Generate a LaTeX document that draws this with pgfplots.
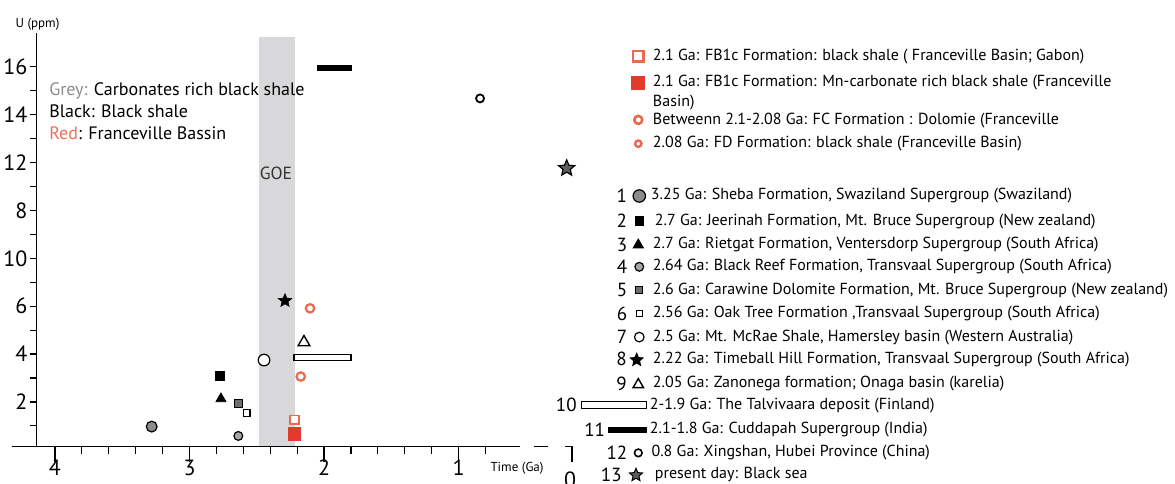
\documentclass[border=0pt]{standalone}
\usepackage{pgfplots}
\pgfplotsset{compat=1.18}
\usepackage{fontspec}
\setmainfont{PT Sans}
\usetikzlibrary{plotmarks}

\definecolor{goe}{RGB}{216,216,219}
\definecolor{gA}{RGB}{140,140,140}
\definecolor{gB}{RGB}{165,165,165}
\definecolor{gC}{RGB}{110,110,110}
\definecolor{gD}{RGB}{95,95,95}
\definecolor{rF}{RGB}{226,58,44}
\definecolor{rR}{RGB}{238,104,78}
\definecolor{greytxt}{RGB}{140,140,140}
\definecolor{redtxt}{RGB}{240,110,90}

\newcommand\tickfont{\fontsize{11bp}{13bp}\selectfont}
\newcommand\legfont{\fontsize{8bp}{9.6bp}\selectfont}
\newcommand\numfont{\fontsize{9.5bp}{11bp}\selectfont}
\newcommand\notefont{\fontsize{9bp}{10.8bp}\selectfont}
\newcommand\labfont{\fontsize{6.5bp}{7.8bp}\selectfont}
% row strut: height 6.75bp+#1, depth 3.75bp
\newcommand\rs[1]{\rule[-3.75bp]{0pt}{\dimexpr10.5bp+#1\relax}}

% filled five-pointed star
\pgfdeclareplotmark{fstar}{%
  \pgfpathmoveto{\pgfpointpolar{90}{\pgfplotmarksize}}%
  \pgfpathlineto{\pgfpointpolar{126}{0.45\pgfplotmarksize}}%
  \pgfpathlineto{\pgfpointpolar{162}{\pgfplotmarksize}}%
  \pgfpathlineto{\pgfpointpolar{198}{0.45\pgfplotmarksize}}%
  \pgfpathlineto{\pgfpointpolar{234}{\pgfplotmarksize}}%
  \pgfpathlineto{\pgfpointpolar{270}{0.45\pgfplotmarksize}}%
  \pgfpathlineto{\pgfpointpolar{306}{\pgfplotmarksize}}%
  \pgfpathlineto{\pgfpointpolar{342}{0.45\pgfplotmarksize}}%
  \pgfpathlineto{\pgfpointpolar{18}{\pgfplotmarksize}}%
  \pgfpathlineto{\pgfpointpolar{54}{0.45\pgfplotmarksize}}%
  \pgfpathclose
  \pgfusepathqfillstroke}

% legend image: #1 = x of number, #2 = number, #3 = symbol
\pgfplotsset{
  leg/.style n args={3}{legend image code/.code={%
    \path[draw=none, fill=none] (-46bp,-3.5bp) rectangle (3.15bp,6.5bp);
    \node[anchor=base east, inner sep=0pt, font=\numfont, text=black] at (#1,-1.4bp) {#2};
    #3}},
}

\begin{document}
\begin{tikzpicture}
\begin{axis}[
  name=ax,
  scale only axis,
  width=241.65bp, height=206.7bp,
  x dir=reverse,
  xmin=0.543, xmax=4.136,
  ymin=0.13, ymax=17.4,
  axis x line=bottom, axis y line=left,
  axis line style={-, line width=0.6bp},
  tick align=outside,
  major tick length=7.5bp, minor tick length=3.5bp,
  tick style={line width=0.6bp, black},
  xtick={4,3,2,1}, xticklabels={4,3,2,1},
  minor xtick={3.8,3.6,3.4,3.2,2.8,2.6,2.4,2.2,1.8,1.6,1.4,1.2,0.8},
  ytick={2,4,...,16}, yticklabels={2,4,6,10,8,12,14,16},
  minor ytick={1,2,...,16},
  major y tick style={draw=none},
  /pgf/number format/assume math mode=true,
  ticklabel style={font=\tickfont, inner sep=0pt},
  xticklabel style={yshift=1bp},
  yticklabel style={xshift=3bp},
  clip=false,
  legend style={at={(axis description cs:1.0718,0.9676)}, anchor=north west,
    draw=none, fill=none, inner sep=0pt, outer sep=0pt,
    row sep=0pt, column sep=0pt, font=\legfont,
    nodes={inner sep=0pt}, cells={anchor=base west}},
]

% GOE band
\addplot[fill=goe, draw=none, forget plot]
  coordinates {(2.487,0.16) (2.219,0.16) (2.219,17.23) (2.487,17.23)} -- cycle;

% Franceville basin
\addplot[only marks, mark=square*, mark size=2.2bp,
  mark options={draw=rR, fill=white, line width=0.9bp},
  leg={0bp}{}{\draw[mark=square*, mark size=2.6bp, mark options={draw=rR, fill=white, line width=1.2bp}] plot coordinates {(-4.2bp,2bp)};}]
  coordinates {(2.221,1.25)};
\addlegendentry{\rs{0bp}2.1 Ga: FB1c Formation: black shale ( Franceville Basin; Gabon)}

\addplot[only marks, mark=square*, mark size=3.1bp,
  mark options={draw=rF, fill=rF},
  leg={0bp}{}{\draw[mark=square*, mark size=3.2bp, mark options={draw=rF, fill=rF}] plot coordinates {(-4.2bp,2bp)};}]
  coordinates {(2.221,0.66)};
\addlegendentry{\rs{3.15bp}\rlap{\raisebox{-9.65bp}[0pt][0pt]{Basin)}}2.1 Ga: FB1c Formation: Mn-carbonate rich black shale (Franceville}

\addplot[only marks, mark=*, mark size=2.1bp,
  mark options={draw=rR, fill=white, line width=1.1bp},
  leg={0bp}{}{\draw[mark=*, mark size=2bp, mark options={draw=rR, fill=white, line width=1.3bp}] plot coordinates {(-4.2bp,2.3bp)};}]
  coordinates {(2.173,3.06)};
\addlegendentry{\rs{8.5bp}Betweenn 2.1-2.08 Ga: FC Formation : Dolomie (Franceville}

\addplot[only marks, mark=*, mark size=2.1bp,
  mark options={draw=rR, fill=white, line width=1.1bp},
  leg={0bp}{}{\draw[mark=*, mark size=1.6bp, mark options={draw=rR, fill=white, line width=1.2bp}] plot coordinates {(-4.2bp,2bp)};}]
  coordinates {(2.104,5.91)};
\addlegendentry{\rs{1.35bp}2.08 Ga: FD Formation: black shale (Franceville Basin)}

% numbered series
\addplot[only marks, mark=*, mark size=2.7bp,
  mark options={draw=black, fill=gA, line width=0.6bp},
  leg={-9.85bp}{1}{\draw[mark=*, mark size=3.1bp, mark options={draw=black, fill=gA, line width=0.6bp}] plot coordinates {(-3.7bp,2bp)};}]
  coordinates {(3.281,0.97)};
\addlegendentry{\rs{15.9bp}\hspace*{-1bp}3.25 Ga: Sheba Formation, Swaziland Supergroup (Swaziland)}

\addplot[only marks, mark=square*, mark size=2.3bp,
  mark options={draw=black, fill=black},
  leg={-9.85bp}{2}{\draw[mark=square*, mark size=2.1bp, mark options={draw=black, fill=black}] plot coordinates {(-3.7bp,2bp)};}]
  coordinates {(2.773,3.09)};
\addlegendentry{\rs{2.3bp}\hspace*{1bp}2.7 Ga: Jeerinah Formation, Mt. Bruce Supergroup (New zealand)}

\addplot[only marks, mark=triangle*, mark size=2.9bp,
  mark options={draw=black, fill=black},
  leg={-9.7bp}{3}{\draw[mark=triangle*, mark size=3bp, mark options={draw=black, fill=black}] plot coordinates {(-4.2bp,1.7bp)};}]
  coordinates {(2.766,2.13)};
\addlegendentry{\rs{1.4bp}2.7 Ga: Rietgat Formation, Ventersdorp Supergroup (South Africa)}

\addplot[only marks, mark=*, mark size=2.2bp,
  mark options={draw=black, fill=gB, line width=0.6bp},
  leg={-9.7bp}{4}{\draw[mark=*, mark size=2.2bp, mark options={draw=black, fill=gB, line width=0.6bp}] plot coordinates {(-3.7bp,2bp)};}]
  coordinates {(2.637,0.58)};
\addlegendentry{\rs{0.95bp}2.64 Ga: Black Reef Formation, Transvaal Supergroup (South Africa)}

\addplot[only marks, mark=square*, mark size=2bp,
  mark options={draw=black, fill=gC, line width=0.6bp},
  leg={-9.7bp}{5}{\draw[mark=square*, mark size=1.75bp, mark options={draw=black, fill=gC, line width=0.6bp}] plot coordinates {(-3.7bp,2bp)};}]
  coordinates {(2.637,1.95)};
\addlegendentry{\rs{1.45bp}2.6 Ga: Carawine Dolomite Formation, Mt. Bruce Supergroup (New zealand)}

\addplot[only marks, mark=square*, mark size=1.7bp,
  mark options={draw=black, fill=white, line width=0.6bp},
  leg={-9.7bp}{6}{\draw[mark=square*, mark size=1.5bp, mark options={draw=black, fill=white, line width=0.6bp}] plot coordinates {(-3.7bp,2bp)};}]
  coordinates {(2.575,1.53)};
\addlegendentry{\rs{1.5bp}2.56 Ga: Oak Tree Formation ,Transvaal Supergroup (South Africa)}

\addplot[only marks, mark=*, mark size=2.9bp,
  mark options={draw=black, fill=white, line width=0.6bp},
  leg={-9.7bp}{7}{\draw[mark=*, mark size=2.4bp, mark options={draw=black, fill=white, line width=0.6bp}] plot coordinates {(-3.7bp,2bp)};}]
  coordinates {(2.446,3.75)};
\addlegendentry{\rs{1.45bp}2.5 Ga: Mt. McRae Shale, Hamersley basin (Western Australia)}

\addplot[only marks, mark=fstar, mark size=3.4bp,
  mark options={draw=black, fill=black, line width=0.4bp},
  leg={-10bp}{8}{\draw[mark=fstar, mark size=3.4bp, mark options={draw=black, fill=black, line width=0.4bp}] plot coordinates {(-5bp,1.6bp)};}]
  coordinates {(2.290,6.23)};
\addlegendentry{\rs{0.8bp}2.22 Ga: Timeball Hill Formation, Transvaal Supergroup (South Africa)}

\addplot[only marks, mark=triangle*, mark size=3.4bp,
  mark options={draw=black, fill=white, line width=0.7bp},
  leg={-10bp}{9}{\draw[mark=triangle*, mark size=3bp, mark options={draw=black, fill=white, line width=0.7bp}] plot coordinates {(-4.2bp,1.7bp)};}]
  coordinates {(2.149,4.49)};
\addlegendentry{\rs{2.15bp}2.05 Ga: Zanonega formation; Onaga basin (karelia)}

\addplot[draw=black, fill=white, line width=0.6bp,
  leg={-35bp}{10}{\draw[draw=black, fill=white, line width=0.6bp] (-32.5bp,0.33bp) rectangle (0bp,3.67bp);}]
  coordinates {(2.223,3.73) (1.80,3.73) (1.80,3.97) (2.223,3.97)} -- cycle;
\addlegendentry{\rs{0.3bp}\hspace*{-1.5bp}2-1.9 Ga: The Talvivaara deposit (Finland)}

\addplot[draw=black, fill=black, line width=0.3bp,
  leg={-20.85bp}{11}{\fill[black] (-19.2bp,0.67bp) rectangle (0bp,3.33bp);}]
  coordinates {(2.052,15.87) (1.80,15.87) (1.80,16.05) (2.052,16.05)} -- cycle;
\addlegendentry{\rs{2bp}\hspace*{-1.5bp}2.1-1.8 Ga: Cuddapah Supergroup (India)}

\addplot[only marks, mark=*, mark size=2bp,
  mark options={draw=black, fill=white, line width=0.9bp},
  leg={-9.7bp}{12}{\draw[mark=*, mark size=1.9bp, mark options={draw=black, fill=white, line width=0.8bp}] plot coordinates {(-4.2bp,2bp)};}]
  coordinates {(0.840,14.68)};
\addlegendentry{\rs{1.4bp}\hspace*{-0.7bp}0.8 Ga: Xingshan, Hubei Province (China)}

\addplot[only marks, mark=fstar, mark size=4.2bp,
  mark options={draw=black, fill=gD, line width=0.6bp},
  leg={-12.5bp}{13}{\draw[mark=fstar, mark size=3.4bp, mark options={draw=black, fill=gD, line width=0.5bp}] plot coordinates {(-5.35bp,1.6bp)};}]
  coordinates {(0.196,11.76)};
\addlegendentry{\rs{0.45bp}\hspace*{1bp}present day: Black sea}

% axis extras: left stub, break and the present-day tick
\draw[line width=0.6bp] (axis cs:4.32,0.13) -- (axis cs:4.136,0.13);
\draw[line width=0.6bp] (axis cs:0.439,0.13) -- (axis cs:0.335,0.13);
\draw[line width=0.6bp] (axis cs:0.208,0.13) -- (axis cs:0.156,0.13) -- (axis cs:0.156,-0.5);
\node[font=\tickfont, anchor=north, inner sep=0pt, yshift=-12.5bp] at (axis cs:0.171,0.13) {0};

% labels and notes
\node[font=\labfont, anchor=base, inner sep=0pt] at (axis cs:4.13,17.66) {U (ppm)};
\node[font=\labfont, anchor=center] at (axis cs:0.565,-0.76) {Time (Ga)};
\node[font=\fontsize{8.8bp}{10bp}\selectfont, text=black!80, anchor=center] at (axis cs:2.357,11.56) {GOE};
\node[font=\notefont, anchor=base west, inner sep=0pt] at (axis cs:4.045,14.82) {{\color{greytxt}Grey:} Carbonates rich black shale};
\node[font=\notefont, anchor=base west, inner sep=0pt] at (axis cs:4.045,13.89) {Black: Black shale};
\node[font=\notefont, anchor=base west, inner sep=0pt] at (axis cs:4.045,12.97) {{\color{redtxt}Red}: Franceville Bassin};
\end{axis}
\pgfresetboundingbox
\path[use as bounding box] (ax.south west) ++(-18.35bp,-18.65bp) rectangle ++(587.5bp,242bp);
\end{tikzpicture}
\end{document}
